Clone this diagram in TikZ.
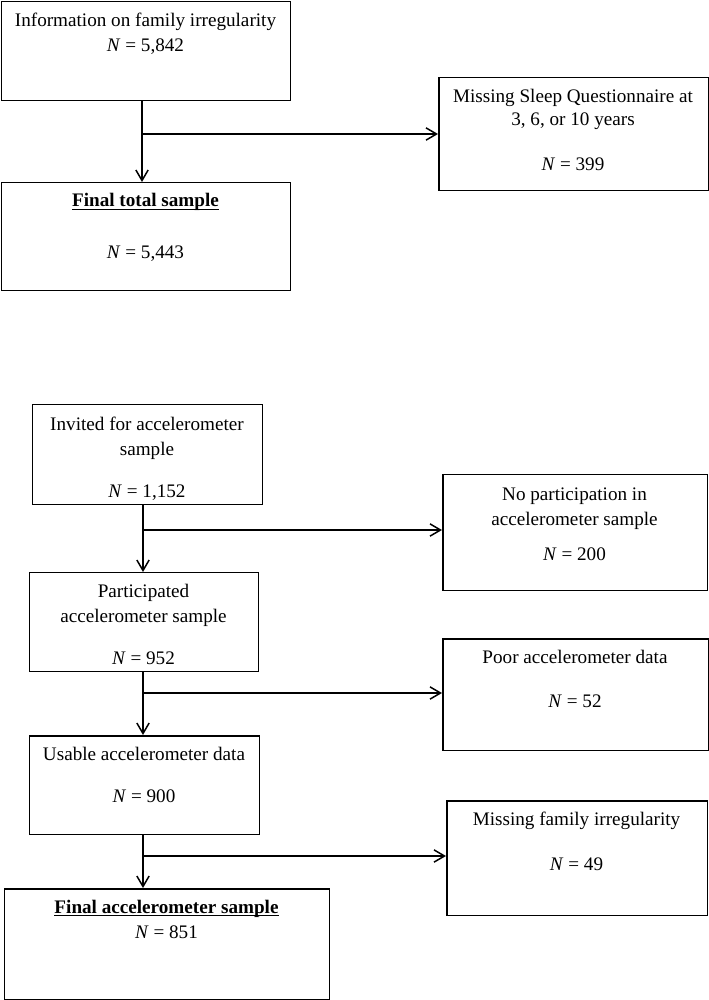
\documentclass[tikz,border=0pt]{standalone}
\usepackage{fontspec}
\setmainfont{Liberation Serif}
\usetikzlibrary{arrows.meta}

\begin{document}
\begin{tikzpicture}[x=0.02cm,y=-0.02cm,>={Straight Barb[length=6pt,width=7pt]},
  box/.style={draw,line width=0.85pt,anchor=north west,inner sep=0pt},
  txt/.style={anchor=base,inner sep=0pt,font=\fontsize{10.9pt}{13pt}\selectfont},
  flow/.style={line width=0.85pt}]
\useasboundingbox (0,0) rectangle (709,1000);
% upper part
\node (info)  at (1,1)     [box,minimum width=5.78cm,minimum height=1.98cm] {};
\node (total) at (1,182)   [box,minimum width=5.78cm,minimum height=2.16cm] {};
\node (sleep) at (438,77)  [box,minimum width=5.40cm,minimum height=2.26cm] {};
\node (info1)  at (145.5,27)  [txt] {Information on family irregularity};
\node (info2)  at (145.5,52)  [txt] {\textit{N} = 5,842};
\node (total1) at (145.5,207) [txt] {\underline{\smash{\textbf{Final total sample}}}};
\node (total2) at (145.5,258) [txt] {\textit{N} = 5,443};
\node (sleep1) at (573,103)   [txt] {Missing Sleep Questionnaire at};
\node (sleep2) at (573,126)   [txt] {3, 6, or 10 years};
\node (sleep3) at (573,171)   [txt] {\textit{N} = 399};
\coordinate (j1) at (142,134);
\draw [flow] (info.south -| j1) -- (j1);
\draw [flow,->] (j1) -- (total.north -| j1);
\draw [flow,->] (j1) -- (sleep.west |- j1);
% lower part
\node (invited) at (32,404)  [box,minimum width=4.60cm,minimum height=2.00cm] {};
\node (nopart)  at (442,474) [box,minimum width=5.30cm,minimum height=2.32cm] {};
\node (partic)  at (29,572)  [box,minimum width=4.58cm,minimum height=1.98cm] {};
\node (poor)    at (442,638) [box,minimum width=5.32cm,minimum height=2.24cm] {};
\node (usable)  at (29,735)  [box,minimum width=4.60cm,minimum height=1.98cm] {};
\node (missfam) at (446,800) [box,minimum width=5.22cm,minimum height=2.30cm] {};
\node (final)   at (4,888)   [box,minimum width=6.50cm,minimum height=2.22cm] {};
\node (invited1) at (147,430)   [txt] {Invited for accelerometer};
\node (invited2) at (147,455)   [txt] {sample};
\node (invited3) at (147,497)   [txt] {\textit{N} = 1,152};
\node (nopart1)  at (574.5,500) [txt] {No participation in};
\node (nopart2)  at (574.5,525) [txt] {accelerometer sample};
\node (nopart3)  at (574.5,560) [txt] {\textit{N} = 200};
\node (partic1)  at (143.5,597) [txt] {Participated};
\node (partic2)  at (143.5,622) [txt] {accelerometer sample};
\node (partic3)  at (143.5,664) [txt] {\textit{N} = 952};
\node (poor1)    at (575,663)   [txt] {Poor accelerometer data};
\node (poor2)    at (575,707)   [txt] {\textit{N} = 52};
\node (usable1)  at (144,760)   [txt] {Usable accelerometer data};
\node (usable2)  at (144,802)   [txt] {\textit{N} = 900};
\node (missfam1) at (576.5,825) [txt] {Missing family irregularity};
\node (missfam2) at (576.5,870) [txt] {\textit{N} = 49};
\node (final1)   at (166.5,913) [txt] {\underline{\smash{\textbf{Final accelerometer sample}}}};
\node (final2)   at (166.5,938) [txt] {\textit{N} = 851};
\coordinate (j2) at (143,530);
\coordinate (j3) at (143,693);
\coordinate (j4) at (143,856);
\draw [flow] (invited.south -| j2) -- (j2);
\draw [flow,->] (j2) -- (partic.north -| j2);
\draw [flow,->] (j2) -- (nopart.west |- j2);
\draw [flow] (partic.south -| j3) -- (j3);
\draw [flow,->] (j3) -- (usable.north -| j3);
\draw [flow,->] (j3) -- (poor.west |- j3);
\draw [flow] (usable.south -| j4) -- (j4);
\draw [flow,->] (j4) -- (final.north -| j4);
\draw [flow,->] (j4) -- (missfam.west |- j4);
\end{tikzpicture}
\end{document}
